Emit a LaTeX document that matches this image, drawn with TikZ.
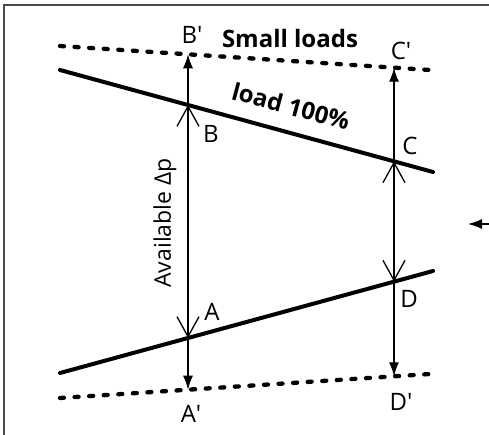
\documentclass[tikz,border=0pt]{standalone}
\usepackage{fontspec}
\setmainfont{Open Sans}
\usetikzlibrary{arrows.meta}

\tikzset{
  loadline/.style={line width=4pt, line cap=round},
  smallline/.style={line width=4.3pt, line cap=round, dash pattern=on 4pt off 10.6pt},
  dparrow/.style={line width=1.3pt, -{Latex[length=14pt,width=10pt]}},
  dpspan/.style={line width=1.3pt, {Straight Barb[length=20pt,width=22pt,line width=1.3pt]}-{Straight Barb[length=20pt,width=22pt,line width=1.3pt]}},
  ptlabel/.style={font=\fontsize{24}{28}\selectfont, inner sep=0pt}
}

\begin{document}
\begin{tikzpicture}[x=1pt,y=-1pt]
\useasboundingbox (0,0) rectangle (489,435);
\clip (0,0) rectangle (489,435);
\draw[line width=1.5pt, black!70] (4,5) rectangle (495,445);

% line ends
\coordinate (topL) at (60,46);   \coordinate (topR) at (430,70);
\coordinate (hiL) at (60,70);    \coordinate (hiR) at (433,172);
\coordinate (loL) at (60,373);   \coordinate (loR) at (433,271);
\coordinate (botL) at (60,398);  \coordinate (botR) at (430,374);

% operating points
\coordinate (Bp) at (188,54.3);
\coordinate (Cp) at (394,67.7);
\coordinate (B) at (188,105);
\coordinate (C) at (394,161.3);
\coordinate (A) at (188,338);
\coordinate (D) at (394,281.7);
\coordinate (Ap) at (188,389.7);
\coordinate (Dp) at (394,376.3);

\draw[smallline] (topL) -- (topR);
\draw[smallline] (botL) -- (botR);
\draw[loadline] (hiL) -- (hiR);
\draw[loadline] (loL) -- (loR);

\draw[dparrow] (B) -- (Bp);
\draw[dpspan] (B) -- (A);
\draw[dparrow] (A) -- (Ap);
\draw[dparrow] (C) -- (Cp);
\draw[dpspan] (C) -- (D);
\draw[dparrow] (D) -- (Dp);

% labels
\node[ptlabel] (lBp) at (192,35) {B′};
\node[ptlabel] (lCp) at (401,51) {C′};
\node[ptlabel] (lB) at (211,134) {B};
\node[ptlabel] (lC) at (410,146) {C};
\node[ptlabel] (lA) at (212,312) {A};
\node[ptlabel] (lD) at (409,299) {D};
\node[ptlabel] (lAp) at (191,414) {A′};
\node[ptlabel] (lDp) at (401,402) {D′};
\node[ptlabel, font=\fontsize{24}{28}\selectfont\bfseries] (small) at (290,39) {Small loads};
\node[ptlabel, font=\fontsize{24}{28}\selectfont\bfseries, rotate=-15] (full) at (291,106) {load 100\%};
\node[ptlabel, font=\fontsize{23}{27}\selectfont, rotate=90] (avail) at (165,223) {Available Δp};

% cut-off arrow at the right edge
\coordinate (tip) at (468,224);
\draw[dparrow] (495,224) -- (tip);
\end{tikzpicture}
\end{document}
